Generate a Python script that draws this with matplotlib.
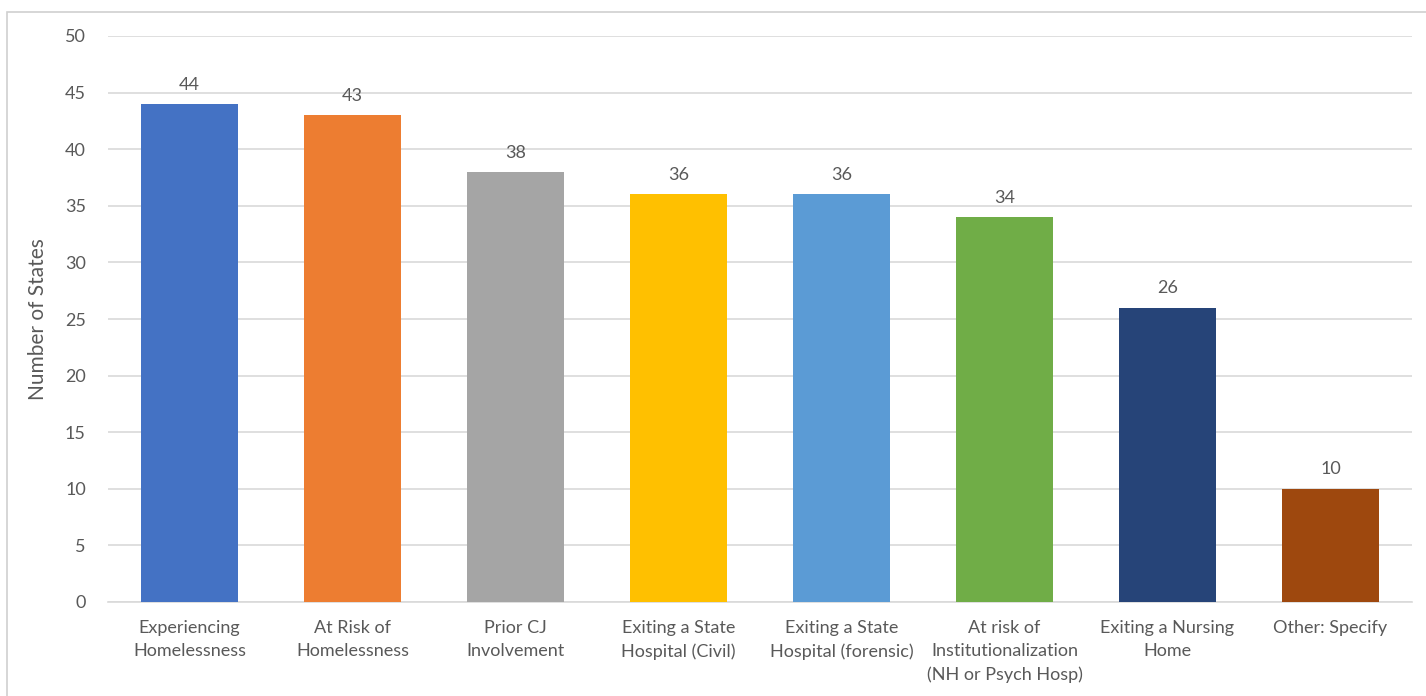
import matplotlib
matplotlib.use('Agg')
import matplotlib.pyplot as plt
from matplotlib.patches import Rectangle

plt.rcParams['font.family'] = ['Lato', 'DejaVu Sans']

# ── Data ──
categories = ['Experiencing\nHomelessness', 'At Risk of\nHomelessness', 'Prior CJ\nInvolvement',
              'Exiting a State\nHospital (Civil)', 'Exiting a State\nHospital (forensic)',
              'At risk of\nInstitutionalization\n(NH or Psych Hosp)', 'Exiting a Nursing\nHome',
              'Other: Specify']
values = [44, 43, 38, 36, 36, 34, 26, 10]
colors = ['#4472C4', '#ED7D31', '#A5A5A5', '#FFC000', '#5B9BD5', '#70AD47', '#264478', '#9E480E']
y_ticks = [0, 5, 10, 15, 20, 25, 30, 35, 40, 45, 50]

txt = '#595959'

fig = plt.figure(figsize=(14.26, 6.96), dpi=100)
ax = fig.add_axes([108/1426, 1 - 602/696, 1304/1426, 566/696])

# chart border
fig.patches.append(Rectangle((7/1426, -0.01), 1.0, 1 - 12/696 + 0.01, transform=fig.transFigure,
                             fill=False, edgecolor='#d0d0d0', linewidth=1.2))

x = range(len(categories))
bars = ax.bar(x, values, width=0.6, color=colors, zorder=3)
for xi, v in zip(x, values):
    ax.text(xi, v + 1.0, str(v), ha='center', va='bottom', fontsize=13, color=txt)

ax.set_xlim(-0.5, len(categories) - 0.5)
ax.set_ylim(0, 50)
ax.set_yticks(y_ticks)
ax.set_xticks(list(x))
ax.set_xticklabels(categories, fontsize=13, color=txt, linespacing=1.55)
ax.tick_params(axis='y', labelsize=13, labelcolor=txt, length=0, pad=16)
ax.tick_params(axis='x', length=0, pad=13)
ax.grid(axis='y', color='#d9d9d9', linewidth=1.2, zorder=0)
for s in ['top', 'right', 'left']:
    ax.spines[s].set_visible(False)
ax.spines['bottom'].set_color('#d9d9d9')
ax.spines['bottom'].set_linewidth(1.2)
ax.set_ylabel('Number of States', fontsize=15, color=txt, labelpad=12)

plt.savefig('out.png', dpi=100)
